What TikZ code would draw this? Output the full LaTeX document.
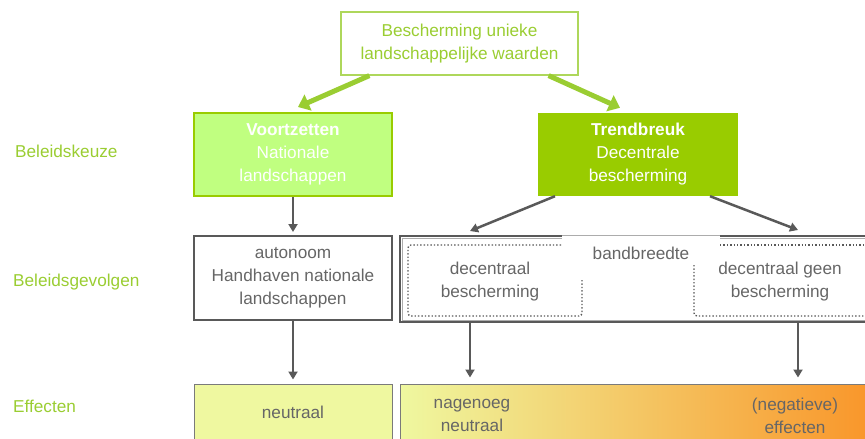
\documentclass[tikz,border=0pt]{standalone}
\usepackage{fontspec}
\setmainfont{Liberation Sans}
\usetikzlibrary{arrows.meta,calc}

\definecolor{lgreen}{HTML}{99CC00}
\definecolor{pgreen}{HTML}{C0FF80}
\definecolor{tgreen}{HTML}{9ACD32}
\definecolor{dgray}{HTML}{595959}
\definecolor{tgray}{HTML}{666666}
\definecolor{ylw}{HTML}{EFF8A0}
\definecolor{orng}{HTML}{F9962A}

\tikzset{
    txt/.style={align=center, inner sep=0pt, font=\fontsize{17.2}{23}\selectfont},
    box/.style={txt, minimum width=198pt, minimum height=83pt},
    rowlabel/.style={txt, anchor=west, text=tgreen},
    grarrow/.style={line width=5pt, draw=tgreen, -{Triangle[width=17pt, length=11pt]}},
    arr/.style={line width=2.5pt, draw=dgray, -{Triangle[width=9pt, length=8pt]}},
    dots/.style={draw=dgray, line width=1.4pt, dotted, rounded corners=3pt}
}

\begin{document}
\begin{tikzpicture}[x=1pt, y=-1pt]
        \useasboundingbox (0, 0) rectangle (865, 439);

        \node [txt, draw=tgreen!80, line width=1.2pt, minimum width=237pt, minimum height=63pt, text=tgreen] (top) at (459.5, 43.5) {Bescherming unieke\\landschappelijke waarden};

        \node [box, draw=lgreen, line width=2pt, fill=pgreen, text=white] (voort) at (293, 154.5) {\textbf{Voortzetten}\\Nationale\\landschappen};
        \node [box, fill=lgreen, minimum width=200pt, text=white] (trend) at (638, 154.5) {\textbf{Trendbreuk}\\Decentrale\\bescherming};

        \node [rowlabel] (keuze) at (15, 151) {Beleidskeuze};
        \node [rowlabel] (gevolg) at (13, 282) {Beleidsgevolgen};
        \node [rowlabel] (effecten) at (13, 406) {Effecten};

        \node [box, draw=dgray, line width=2pt, minimum height=84pt, text=tgray] (auto) at (293, 278) {autonoom\\Handhaven nationale\\landschappen};

        \node [draw=dgray, line width=2pt, minimum width=470pt, minimum height=86pt] (band) at (635, 279) {};
        \draw [dgray!50, line width=0.8pt] ($(band.north west)+(3, 3)$) rectangle ($(band.south east)+(-3, -3)$);
        \node [fill=white, minimum width=158pt, minimum height=32pt] (gap) at (641, 250) {};
        \draw [dgray!50, line width=0.8pt] ($(gap.north west)+(0, 2)$) -- ($(gap.north east)+(0, 2)$);
        \node [txt, text=tgray] (breed) at (641, 253) {bandbreedte};

        % dotted frames
        \draw [dots] (582, 280) -- (582, 316) -- (408, 316) -- (408, 245) -- (562, 245);
        \draw [dots] (694, 265) -- (694, 316) -- (870, 316);
        \draw [dots] (720, 245) -- (870, 245);
        \node [txt, text=tgray] (dcent) at (490, 282) {decentraal\\bescherming};
        \node [txt, text=tgray] (dgeen) at (780, 282) {decentraal geen\\bescherming};

        \node [txt, draw=dgray!80, line width=1pt, fill=ylw, minimum width=198pt, minimum height=62pt, text=tgray] (neutr) at (293, 415) {\raisebox{5pt}{neutraal}};
        \node [draw=dgray!80, line width=1pt, left color=ylw, right color=orng, minimum width=470pt, minimum height=62pt] (effect) at (635, 415) {};
        \node [txt, text=tgray] (nagen) at (472, 415) {nagenoeg\\neutraal};
        \node [txt, text=tgray] (negat) at (795, 416) {(negatieve)\\effecten};

        \draw ([xshift=29pt]top.south west) edge[grarrow] ([xshift=5pt, yshift=5pt]voort.north);
        \draw ([xshift=-30pt]top.south east) edge[grarrow] ([xshift=-18pt, yshift=5pt]trend.north);

        \draw (voort.south) edge[arr] ([yshift=3pt]auto.north);
        \draw ([xshift=-83pt]trend.south) edge[arr] ([xshift=-165pt, yshift=4pt]band.north);
        \draw ([xshift=72pt]trend.south) edge[arr] ([xshift=163pt, yshift=5pt]band.north);

        \draw (auto.south) edge[arr] ([yshift=4pt]neutr.north);
        \draw ([xshift=-165pt]band.south) edge[arr] ([xshift=-165pt, yshift=6pt]effect.north);
        \draw ([xshift=163pt]band.south) edge[arr] ([xshift=163pt, yshift=6pt]effect.north);

    \end{tikzpicture}
\end{document}
